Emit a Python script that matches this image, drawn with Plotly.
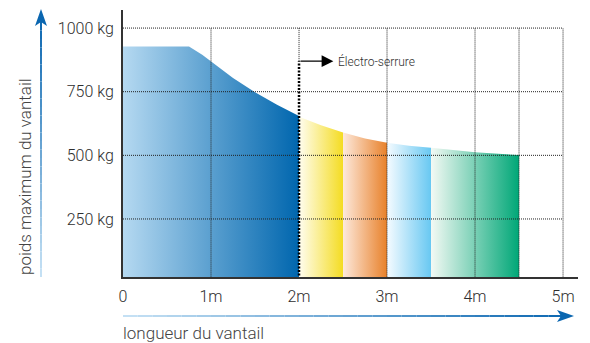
import plotly.graph_objects as go

# load curve (length in m, max leaf weight in kg)
blue_x = [0, 0.75, 0.9, 1.0, 1.25, 1.5, 1.75, 2.0]
blue_y = [928, 928, 895, 868, 804, 748, 699, 655]
yellow_x = [2.0, 2.25, 2.5]
yellow_y = [652, 618, 590]
orange_x = [2.5, 2.75, 3.0]
orange_y = [590, 566, 549]
lightblue_x = [3.0, 3.25, 3.5]
lightblue_y = [549, 538, 530]
green_x = [3.5, 4.0, 4.5]
green_y = [530, 512, 501]

x_ticks = [0, 1, 2, 3, 4, 5]
x_labels = ['0', '1m', '2m', '3m', '4m', '5m']
y_ticks = [250, 500, 750, 1000]
y_labels = ['250 kg', '500 kg', '750 kg', '1000 kg']
grid_x = [1, 3, 4, 4.5, 5]
lock_x, lock_y = 2, 870

segments = [
    (blue_x, blue_y, '#b5d9f1', '#0066ae'),
    (yellow_x, yellow_y, '#fffdf0', '#f4dc22'),
    (orange_x, orange_y, '#fde9dc', '#e8812a'),
    (lightblue_x, lightblue_y, '#f5fbff', '#68c8f2'),
    (green_x, green_y, '#f3f9f4', '#00a777'),
]

FONT = 'Roboto, Liberation Sans, Arial, sans-serif'
TXT = '#2e2e2e'
W = 300

fig = go.Figure()
for xs, ys, c0, c1 in segments:
    fig.add_trace(go.Scatter(
        x=xs, y=ys, mode='lines', line=dict(width=0),
        fill='tozeroy', fillgradient=dict(type='horizontal', colorscale=[[0, c0], [1, c1]]),
        hoverinfo='skip', showlegend=False))

shapes = []
grid = dict(color='#222222', width=1, dash='1px,1px')
for gx in grid_x:
    shapes.append(dict(type='line', x0=gx, x1=gx, y0=0, y1=1000, xref='x', yref='y',
                       line=grid, layer='above'))
shapes.append(dict(type='line', x0=lock_x, x1=lock_x, y0=lock_y, y1=1000, xref='x', yref='y',
                   line=grid, layer='above'))
for gy in y_ticks:
    shapes.append(dict(type='line', x0=0, x1=5, y0=gy, y1=gy, xref='x', yref='y',
                       line=grid, layer='above'))
# électro-serrure limit
shapes.append(dict(type='line', x0=lock_x, x1=lock_x, y0=0, y1=lock_y, xref='x', yref='y',
                   line=dict(color='black', width=2.5, dash='2px,1.5px'), layer='above'))


# gradient arrows along the axes (paper coords, built from pixel positions)
def px(xp):
    return (xp - 123) / 455


def py(yp):
    return (277 - yp) / 267


def mix(a, b, t):
    a = [int(a[i:i + 2], 16) for i in (1, 3, 5)]
    b = [int(b[i:i + 2], 16) for i in (1, 3, 5)]
    return 'rgb(%d,%d,%d)' % tuple(round(a[k] + (b[k] - a[k]) * t) for k in range(3))


n = 30
light, dark = '#c4e0f4', '#0a66b0'
for i in range(n):
    t0, t1 = i / n, (i + 1) / n
    # vertical arrow
    shapes.append(dict(type='line', xref='paper', yref='paper',
                       x0=px(41), x1=px(41), y0=py(277 - t0 * 255), y1=py(277 - t1 * 255),
                       line=dict(color=mix(light, dark, t0), width=2)))
    # horizontal arrow
    shapes.append(dict(type='line', xref='paper', yref='paper',
                       x0=px(123 + t0 * 440), x1=px(123 + t1 * 440), y0=py(316), y1=py(316),
                       line=dict(color=mix(light, dark, t0), width=2)))
shapes.append(dict(type='path', xref='paper', yref='paper', line=dict(width=0), fillcolor=dark,
                   path='M %f %f L %f %f L %f %f L %f %f Z' % (
                       px(41), py(9), px(47), py(26), px(41), py(22), px(35), py(26))))
shapes.append(dict(type='path', xref='paper', yref='paper', line=dict(width=0), fillcolor=dark,
                   path='M %f %f L %f %f L %f %f L %f %f Z' % (
                       px(574), py(316), px(557), py(310), px(561), py(316), px(557), py(322))))

annotations = [
    dict(x=2.39, y=lock_y, ax=lock_x, ay=lock_y, axref='x', ayref='y', xref='x', yref='y',
         text='', showarrow=True, arrowhead=2, arrowsize=1.8, arrowwidth=1.3, arrowcolor='black'),
    dict(x=2.42, y=lock_y, xref='x', yref='y', text='Électro-serrure', showarrow=False,
         xanchor='left', yanchor='middle', font=dict(size=12, color=TXT, family=FONT, weight=W)),
    dict(x=px(121), y=py(333), xref='paper', yref='paper', text='longueur du vantail',
         showarrow=False, xanchor='left', yanchor='middle',
         font=dict(size=17, color='#444444', family=FONT, weight=W)),
    dict(x=px(25), y=py(177), xref='paper', yref='paper', text='poids maximum du vantail',
         showarrow=False, textangle=-90, xanchor='center', yanchor='middle',
         font=dict(size=17, color='#444444', family=FONT, weight=W)),
]

fig.update_layout(
    width=590, height=343,
    margin=dict(l=123, r=12, t=10, b=66),
    paper_bgcolor='white', plot_bgcolor='white',
    font=dict(family=FONT, size=16, color=TXT, weight=W),
    shapes=shapes, annotations=annotations,
)
fig.update_xaxes(range=[0, 5.17], showgrid=False, zeroline=False, showline=True, linecolor='#333333',
                 linewidth=2, tickvals=x_ticks, ticktext=x_labels, ticks='outside', ticklen=4,
                 tickcolor='rgba(0,0,0,0)', tickfont=dict(size=16, color=TXT, weight=W), automargin=False)
fig.update_yaxes(range=[22, 1071], showgrid=False, zeroline=False, showline=True, linecolor='#333333',
                 linewidth=2, tickvals=y_ticks, ticktext=y_labels, ticks='outside', ticklen=4,
                 tickcolor='rgba(0,0,0,0)', tickfont=dict(size=16, color=TXT, weight=W), automargin=False)

fig.write_html('out.html', config={'displayModeBar': False},
               post_script="document.body.style.margin='0';")
